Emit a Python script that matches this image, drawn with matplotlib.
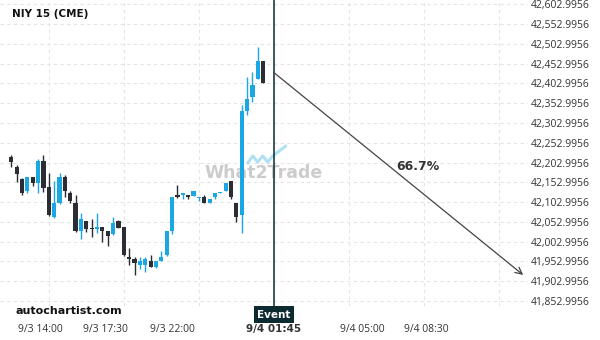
import numpy as np
import matplotlib.pyplot as plt
import matplotlib.transforms as mtransforms

# chart data
title = 'NIY 15 (CME)'
opens = [42216.9, 42190.9, 42161.4, 42131.8, 42166.4, 42152.0, 42206.8, 42141.2,
         42066.2, 42100.8, 42166.4, 42126.8, 42101.5, 42030.8, 42054.5, 42038.4,
         42034.4, 42039.4, 42030.1, 42021.7, 42054.5, 42039.4, 41963.6, 41959.3,
         41944.2, 41944.2, 41954.3, 41939.9, 41954.3, 41969.4, 42030.1, 42121.0,
         42121.0, 42121.0, 42117.7, 42112.6, 42115.2, 42101.5, 42116.7, 42126.8,
         42131.8, 42155.6, 42101.5, 42071.2, 42333.1, 42369.2, 42413.9, 42459.4]
highs = [42222.0, 42196.7, 42163.9, 42166.4, 42166.4, 42211.9, 42222.0, 42175.8,
         42156.3, 42175.8, 42171.5, 42131.1, 42121.0, 42074.8, 42054.5, 42059.6,
         42074.8, 42039.4, 42030.1, 42064.7, 42057.8, 42039.4, 41986.4, 41964.4,
         41964.4, 41964.4, 41969.4, 41954.3, 41979.5, 42030.1, 42115.9, 42146.2,
         42125.3, 42121.0, 42131.1, 42115.9, 42121.7, 42110.1, 42126.8, 42128.5,
         42150.5, 42155.6, 42101.5, 42347.5, 42418.2, 42432.3, 42494.0, 42459.4]
lows = [42191.7, 42154.6, 42120.2, 42125.3, 42144.5, 42125.3, 42129.3, 42067.9,
        42063.6, 42098.2, 42115.2, 42100.0, 42028.3, 42009.1, 42027.5, 42014.1,
        42025.8, 42003.0, 41992.2, 42019.2, 42036.9, 41966.9, 41944.2, 41918.9,
        41934.1, 41927.3, 41939.1, 41937.4, 41954.3, 41967.7, 42023.2, 42112.6,
        42110.9, 42110.9, 42117.7, 42105.8, 42100.0, 42101.5, 42110.1, 42126.8,
        42130.3, 42110.1, 42052.8, 42024.2, 42323.0, 42356.6, 42413.9, 42404.6]
closes = [42203.5, 42173.2, 42126.8, 42166.4, 42152.0, 42206.8, 42137.9, 42071.2,
          42100.8, 42166.4, 42131.8, 42106.6, 42030.8, 42060.4, 42035.9, 42035.1,
          42039.4, 42030.8, 42016.7, 42049.5, 42036.9, 41969.4, 41960.1, 41949.2,
          41954.3, 41959.3, 41939.9, 41954.3, 41965.2, 42030.1, 42115.9, 42115.9,
          42125.3, 42115.9, 42131.1, 42115.9, 42101.5, 42110.1, 42126.8, 42128.5,
          42150.5, 42115.2, 42066.2, 42333.1, 42362.6, 42398.7, 42459.4, 42404.6]

event_idx = 49
event_price = 42430.0
target_idx = 95.5
target_price = 41919.0
prob_label = '66.7%'

xtick_pos = [5.5, 17.5, 30, 49, 65.5, 77.5]
xtick_labels = ['9/3 14:00', '9/3 17:30', '9/3 22:00', '9/4 01:45', '9/4 05:00', '9/4 08:30']
xgrid_pos = [7, 21, 35, 49, 63, 77, 91]
ytick_vals = [41852.9956 + 50 * k for k in range(16)]

BLUE = '#1ba7e1'
DARK = '#2b2c34'
EVENT = '#0c2a30'

fig = plt.figure(figsize=(6, 3.4), dpi=100)
ax = fig.add_axes([0, 0.1, 0.88, 0.9])
ax.set_xlim(-2.1, 96.4)
ax.set_ylim(41840.6, 42613.4)

for s in ax.spines.values():
    s.set_visible(False)

# grid
for v in ytick_vals:
    ax.axhline(v, color='#e4e4e4', lw=0.8, ls=(0, (3, 3)), zorder=0)
for g in xgrid_pos:
    ax.axvline(g, color='#e4e4e4', lw=0.8, ls=(0, (3, 3)), zorder=0)

# watermark
ax.text(47.1, 42176.5, 'What2Trade', fontsize=12.5, fontweight='bold',
        color='#cccccc', ha='center', va='center', zorder=1, family='DejaVu Sans')
logo_tr = mtransforms.offset_copy(ax.transData, fig=fig, x=0, y=0, units='dots')
lx = np.array([-16, -11, -6, -1, 4, 9, 22]) + 47.1 * 0
ly = np.array([10, 17, 11, 17, 11, 17, 27])
base = ax.transData.transform((47.1, 42176.5))
ax.plot(base[0] + lx, base[1] + ly, transform=None, color=BLUE, alpha=0.35,
        lw=2.2, zorder=1, solid_capstyle='round')

# candles
for i, (o, h, l, c) in enumerate(zip(opens, highs, lows, closes)):
    col = BLUE if c >= o else DARK
    ax.vlines(i, l, h, color=col, lw=1, zorder=3)
    ax.bar(i, max(abs(c - o), 2.0), bottom=min(o, c), width=0.78, color=col,
           zorder=3, linewidth=0)

# event line and forecast arrow
ax.axvline(event_idx, color=EVENT, lw=1.1, zorder=4)
ax.annotate('', xy=(target_idx, target_price), xytext=(event_idx, event_price),
            arrowprops=dict(arrowstyle='->', color='#444444', lw=0.9,
                            shrinkA=0, shrinkB=0, mutation_scale=12), zorder=5)
ax.text(75.9, 42191.7, prob_label, fontsize=9, fontweight='bold', color='#333333',
        ha='center', va='center', family='DejaVu Sans')

blend = mtransforms.blended_transform_factory(ax.transData, ax.transAxes)
ax.text(event_idx, -0.012, 'Event', transform=blend, ha='center', va='top',
        fontsize=7.5, fontweight='bold', color='white', family='DejaVu Sans',
        bbox=dict(boxstyle='square,pad=0.35', fc=EVENT, ec='none'))

# axes ticks
ax.set_xticks(xtick_pos)
ax.set_xticklabels(xtick_labels)
ax.tick_params(axis='x', length=0, pad=13, labelsize=7.5, labelcolor='#333333')
ax.get_xticklabels()[3].set_fontweight('bold')
ax.yaxis.tick_right()
ax.set_yticks(ytick_vals)
ax.set_yticklabels(['{:,.4f}'.format(v) for v in ytick_vals])
ax.tick_params(axis='y', length=0, pad=2, labelsize=7.5, labelcolor='#333333')
for t in ax.get_xticklabels() + ax.get_yticklabels():
    t.set_family('Open Sans')
ax.get_xticklabels()[3].set_family('DejaVu Sans')

fig.text(12 / 600, 1 - 14 / 340, title, fontsize=7.5, fontweight='bold',
         color='#111111', va='center', family='DejaVu Sans')
fig.text(16 / 600, 1 - 311 / 340, 'autochartist.com', fontsize=8, fontweight='bold',
         color='#111111', va='center', family='DejaVu Sans')

fig.savefig('out.png', dpi=100)
